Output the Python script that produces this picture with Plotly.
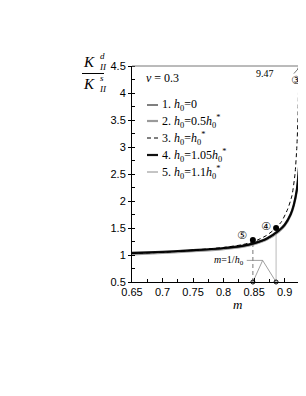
import plotly.graph_objects as go

# ---------------- data ----------------
m_solid = [0.65, 0.70, 0.75, 0.80, 0.83, 0.85, 0.87, 0.89, 0.90, 0.91, 0.915, 0.92, 0.9235, 0.9255, 0.9268]
k_curve1 = [1.03, 1.05, 1.08, 1.12, 1.16, 1.21, 1.29, 1.44, 1.55, 1.75, 1.92, 2.2, 2.6, 3.0, 3.6]
k_curve2 = [1.01, 1.04, 1.07, 1.11, 1.15, 1.20, 1.28, 1.43, 1.54, 1.74, 1.91, 2.19, 2.58, 2.98, 3.58]
k_curve4 = [1.04, 1.06, 1.09, 1.13, 1.17, 1.22, 1.30, 1.45, 1.56, 1.76, 1.93, 2.21, 2.61, 3.01, 3.6]
k_curve5 = [1.02, 1.045, 1.075, 1.115, 1.155, 1.205, 1.285, 1.435, 1.545, 1.745, 1.915, 2.2, 2.6, 3.1, 3.98]

m_dashed = [0.65, 0.70, 0.75, 0.80, 0.83, 0.85, 0.87, 0.885, 0.895, 0.905, 0.912, 0.917, 0.92, 0.922, 0.9235]
k_curve3 = [1.03, 1.05, 1.09, 1.14, 1.19, 1.25, 1.36, 1.49, 1.62, 1.85, 2.1, 2.5, 3.0, 3.6, 4.6]

dot_m = [0.848, 0.886, 0.9268, 0.9268]
dot_k = [1.28, 1.50, 3.60, 3.98]

crit_m = [0.848, 0.886, 0.9268]      # m = 1/h0 markers on axis
crit_top = [1.28, 1.50, 4.5]

y_ticks = [0.5, 1, 1.5, 2, 2.5, 3, 3.5, 4, 4.5]
y_tick_text = ["0.5", "1", "1.5", "2", "2.5", "3", "3.5", "4", "4.5"]
x_ticks = [0.65, 0.7, 0.75, 0.8, 0.85, 0.9]
x_tick_text = ["0.65", "0.7", "0.75", "0.8", "0.85", "0.9"]

legend_labels = [
    "1. <i>h</i><sub>0</sub>=0",
    "2. <i>h</i><sub>0</sub>=0.5<i>h</i><sub>0</sub><sup>*</sup>",
    "3. <i>h</i><sub>0</sub>=<i>h</i><sub>0</sub><sup>*</sup>",
    "4. <i>h</i><sub>0</sub>=1.05<i>h</i><sub>0</sub><sup>*</sup>",
    "5. <i>h</i><sub>0</sub>=1.1<i>h</i><sub>0</sub><sup>*</sup>",
]

# ---------------- layout geometry ----------------
OFF = 8                       # page body margin
W, H = 298, 388
L, R, T, B = 124, 0, 58, 114
PW, PH = W - L - R, H - T - B


def px(x):
    return (x - OFF - L) / PW


def py(y):
    return (H - B - (y - OFF)) / PH


SERIF = "Liberation Serif, Times New Roman, serif"
SANS = "Liberation Sans, Arial, sans-serif"

styles = {
    1: dict(color="black", width=1.0, dash="solid"),
    2: dict(color="#9a9a9a", width=2.2, dash="solid"),
    3: dict(color="black", width=1.0, dash="4px,3px"),
    4: dict(color="#111111", width=2.2, dash="solid"),
    5: dict(color="#8a8a8a", width=1.0, dash="solid"),
}

fig = go.Figure()

# vertical reference lines
for m0, top, col, dsh in zip(crit_m, crit_top, ["#777777", "#bbbbbb", "#777777"], ["4px,3px", "solid", "4px,3px"]):
    fig.add_trace(go.Scatter(x=[m0, m0], y=[0.5, top], mode="lines",
                             line=dict(color=col, width=1, dash=dsh), hoverinfo="skip", showlegend=False))

# curves
for mm, kk, s in [(m_solid, k_curve2, 2), (m_solid, k_curve5, 5), (m_solid, k_curve4, 4),
                  (m_solid, k_curve1, 1), (m_dashed, k_curve3, 3)]:
    fig.add_trace(go.Scatter(x=mm, y=kk, mode="lines", line=dict(shape="spline", smoothing=0.6, **styles[s]),
                             showlegend=False))

# dots
fig.add_trace(go.Scatter(x=dot_m, y=dot_k, mode="markers", marker=dict(color="black", size=6),
                         showlegend=False, cliponaxis=False))

# Lambda-shaped pointer to m = 1/h0 markers
lam_m = [crit_m[0], 0.864, crit_m[1]]
lam_k = [0.5, 0.9, 0.5]
fig.add_trace(go.Scatter(x=lam_m, y=lam_k, mode="lines", line=dict(color="#888888", width=0.8),
                         showlegend=False, hoverinfo="skip"))
fig.add_trace(go.Scatter(x=[0.838, 0.864], y=[0.9, 0.9], mode="lines", line=dict(color="#888888", width=0.8),
                         showlegend=False, hoverinfo="skip"))

# open circles on axis
fig.add_trace(go.Scatter(x=crit_m, y=[0.5] * len(crit_m), mode="markers",
                         marker=dict(symbol="circle-open", color="black", size=4, line=dict(width=1)),
                         showlegend=False, cliponaxis=False))

# top frame line
fig.add_shape(type="line", xref="paper", yref="paper", x0=0, x1=px(300), y0=1, y1=1,
              line=dict(color="#777777", width=1))

# manual legend
rows_y = [105, 121, 138, 155, 172]
for idx, yy, lab in zip([1, 2, 3, 4, 5], rows_y, legend_labels):
    st = styles[idx]
    fig.add_shape(type="line", xref="paper", yref="paper", x0=px(147), x1=px(158), y0=py(yy), y1=py(yy),
                  line=dict(color=st["color"], width=st["width"], dash=st["dash"] if idx == 3 else "solid"))
    fig.add_annotation(xref="paper", yref="paper", x=px(160), y=py(yy), xanchor="left", yanchor="middle",
                       text=lab, showarrow=False, font=dict(family=SERIF, size=12, color="black"))

fig.add_annotation(xref="paper", yref="paper", x=px(144), y=py(78), xanchor="left", yanchor="middle",
                   text="<i>ν</i> = 0.3", showarrow=False, font=dict(family=SERIF, size=12, color="black"))

# in-plot annotations
circ_font = dict(family="DejaVu Sans, Noto Sans CJK SC", size=11, color="black")
fig.add_annotation(x=0.8302, y=1.352, text="⑤", showarrow=False, font=circ_font)
fig.add_annotation(x=0.8695, y=1.537, text="④", showarrow=False, font=circ_font)
fig.add_annotation(x=0.9187, y=4.24, text="③", showarrow=False, font=circ_font)
fig.add_annotation(x=0.868, y=4.36, text="9.47", showarrow=False, font=dict(family=SERIF, size=10, color="black"))
fig.add_annotation(x=0.9245, y=4.48, ax=-7, ay=8, text="", showarrow=True, arrowhead=2, arrowsize=0.6,
                   arrowwidth=0.8, arrowcolor="#555555")
fig.add_annotation(x=0.837, y=0.9, xanchor="right", yanchor="middle", text="<i>m</i>=1/<i>h</i><sub>0</sub>",
                   showarrow=False, font=dict(family=SERIF, size=10, color="black"))

# y-axis title as a fraction (built from pieces)
def frac_part(cx, cy, sup):
    fig.add_annotation(xref="paper", yref="paper", x=px(cx), y=py(cy), xanchor="right", yanchor="middle",
                       text="<i>K</i>", showarrow=False, font=dict(family=SERIF, size=15, color="black"))
    fig.add_annotation(xref="paper", yref="paper", x=px(cx), y=py(cy + 5), xanchor="left", yanchor="middle",
                       text="<i>II</i>", showarrow=False, font=dict(family=SERIF, size=9, color="black"))
    fig.add_annotation(xref="paper", yref="paper", x=px(cx + 1), y=py(cy - 6), xanchor="left", yanchor="middle",
                       text="<i>%s</i>" % sup, showarrow=False, font=dict(family=SERIF, size=9, color="black"))

frac_part(97, 62, "d")
fig.add_shape(type="line", xref="paper", yref="paper", x0=px(82), x1=px(104), y0=py(73.5), y1=py(73.5),
              line=dict(color="black", width=1))
frac_part(97, 84, "s")

# x-axis title
fig.add_annotation(xref="paper", yref="paper", x=px(237), y=py(304), xanchor="center", yanchor="middle",
                   text="<i>m</i>", showarrow=False, font=dict(family=SERIF, size=13, color="black"))

fig.update_layout(
    width=W, height=H,
    margin=dict(l=L, r=R, t=T, b=B, pad=0),
    paper_bgcolor="white", plot_bgcolor="white",
    showlegend=False,
    xaxis=dict(range=[0.65, 0.935], tickvals=x_ticks, ticktext=x_tick_text, ticks="inside", ticklen=4,
               tickcolor="black", showline=True, linecolor="black", linewidth=1, showgrid=False, zeroline=False,
               tickfont=dict(family=SANS, size=11, color="black"),
               minor=dict(dtick=0.025, tick0=0.65, ticks="inside", ticklen=3, tickcolor="black")),
    yaxis=dict(range=[0.5, 4.5], tickvals=y_ticks, ticktext=y_tick_text, ticks="outside", ticklen=3,
               tickcolor="black", showline=True, linecolor="black", linewidth=1, showgrid=False, zeroline=False,
               tickfont=dict(family=SANS, size=11, color="black"),
               minor=dict(dtick=0.25, tick0=0.5, ticks="inside", ticklen=3, tickcolor="black")),
)

fig.write_html("out.html")
